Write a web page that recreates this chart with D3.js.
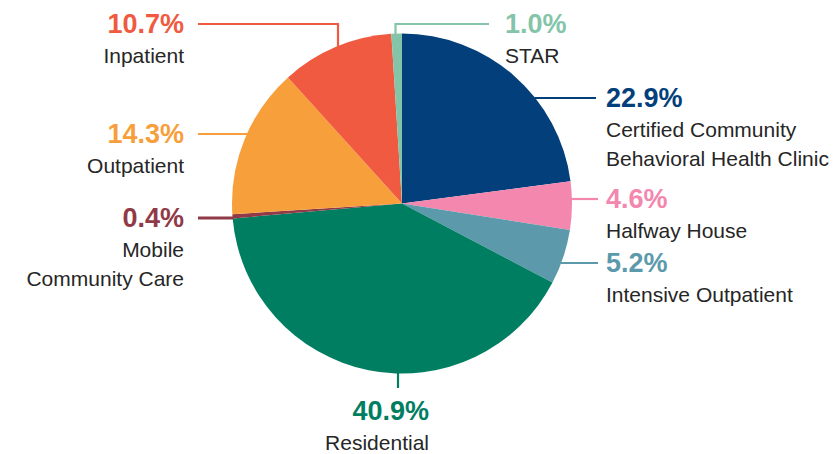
<!DOCTYPE html>
<html>
<head>
<meta charset="utf-8">
<script src="https://cdn.jsdelivr.net/npm/d3@7"></script>
<style>
  html, body { margin: 0; padding: 0; background: #ffffff; }
  svg { display: block; }
</style>
</head>
<body>
<svg id="chart" width="839" height="454"></svg>
<script>
// ---- data ----
const categories = ["Certified Community\nBehavioral Health Clinic", "Halfway House", "Intensive Outpatient", "Residential", "Mobile\nCommunity Care", "Outpatient", "Inpatient", "STAR"];
const values = [22.9, 4.6, 5.2, 40.9, 0.4, 14.3, 10.7, 1.0];
const valueLabels = ["22.9%", "4.6%", "5.2%", "40.9%", "0.4%", "14.3%", "10.7%", "1.0%"];
const colors = ["#033f7a", "#f387ae", "#5c9aab", "#007e62", "#913a47", "#f7a03b", "#ef5a40", "#84c5a9"];

// ---- layout ----
const W = 839, H = 454;
const cx = 402, cy = 203.5, R = 170;
const svg = d3.select("#chart");

const pie = d3.pie().sort(null).value(d => d).startAngle(0).endAngle(2 * Math.PI);
const arcs = pie(values);
const arc = d3.arc().innerRadius(0).outerRadius(R);

const g = svg.append("g").attr("transform", `translate(${cx},${cy})`);
g.selectAll("path").data(arcs).enter().append("path")
  .attr("d", arc)
  .attr("fill", (d, i) => colors[i]);

// label annotation placement
const layout = [
  { type: "right", y: 98, end: 596, tx: 606, anchor: "start" },
  { type: "right", y: 199, end: 598, tx: 606, anchor: "start" },
  { type: "right", y: 263, end: 598, tx: 606, anchor: "start" },
  { type: "down", x: 398, end: 388, tx: 429, ty: 420, anchor: "end" },
  { type: "left", y: 218, end: 198, tx: 184, anchor: "end", w: 3 },
  { type: "left", y: 134, end: 198, tx: 184, anchor: "end" },
  { type: "upleft", x: 338, y: 24, end: 198, tx: 184, anchor: "end" },
  { type: "upright", x: 395.5, y: 24, end: 489, tx: 505, anchor: "start" }
];

const PCT_SIZE = 27, LBL_SIZE = 21, LINE_H = 29.5;
const capOffset = 26.5 * 0.716 / 2;
const FONT = "'Liberation Sans', Arial, Helvetica, sans-serif";

layout.forEach((L, i) => {
  let pts, px, py;
  if (L.type === "right" || L.type === "left") {
    const dy = L.y - cy;
    const dx = Math.sqrt(R * R - dy * dy);
    const ex = L.type === "right" ? cx + dx - 1 : cx - dx + 1;
    pts = [[ex, L.y], [L.end, L.y]];
    px = L.tx; py = L.y + capOffset;
  } else if (L.type === "down") {
    const dx = L.x - cx;
    const ey = cy + Math.sqrt(R * R - dx * dx);
    pts = [[L.x, ey - 1], [L.x, L.end]];
    px = L.tx; py = L.ty;
  } else {
    const dx = L.x - cx;
    const ey = cy - Math.sqrt(R * R - dx * dx);
    pts = [[L.x, ey + 2], [L.x, L.y], [L.end, L.y]];
    px = L.tx; py = L.y + capOffset;
  }
  svg.append("path")
    .attr("d", d3.line()(pts))
    .attr("fill", "none")
    .attr("stroke", colors[i])
    .attr("stroke-width", L.w || 2.2);

  svg.append("text")
    .attr("x", px).attr("y", py)
    .attr("text-anchor", L.anchor)
    .attr("font-family", FONT)
    .attr("font-weight", "bold")
    .attr("font-size", PCT_SIZE)
    .attr("fill", colors[i])
    .text(valueLabels[i]);

  categories[i].split("\n").forEach((line, k) => {
    svg.append("text")
      .attr("x", px).attr("y", py + LINE_H * (k + 1))
      .attr("text-anchor", L.anchor)
      .attr("font-family", FONT)
      .attr("font-size", LBL_SIZE)
      .attr("fill", "#262626")
      .text(line);
  });
});
</script>
</body>
</html>
